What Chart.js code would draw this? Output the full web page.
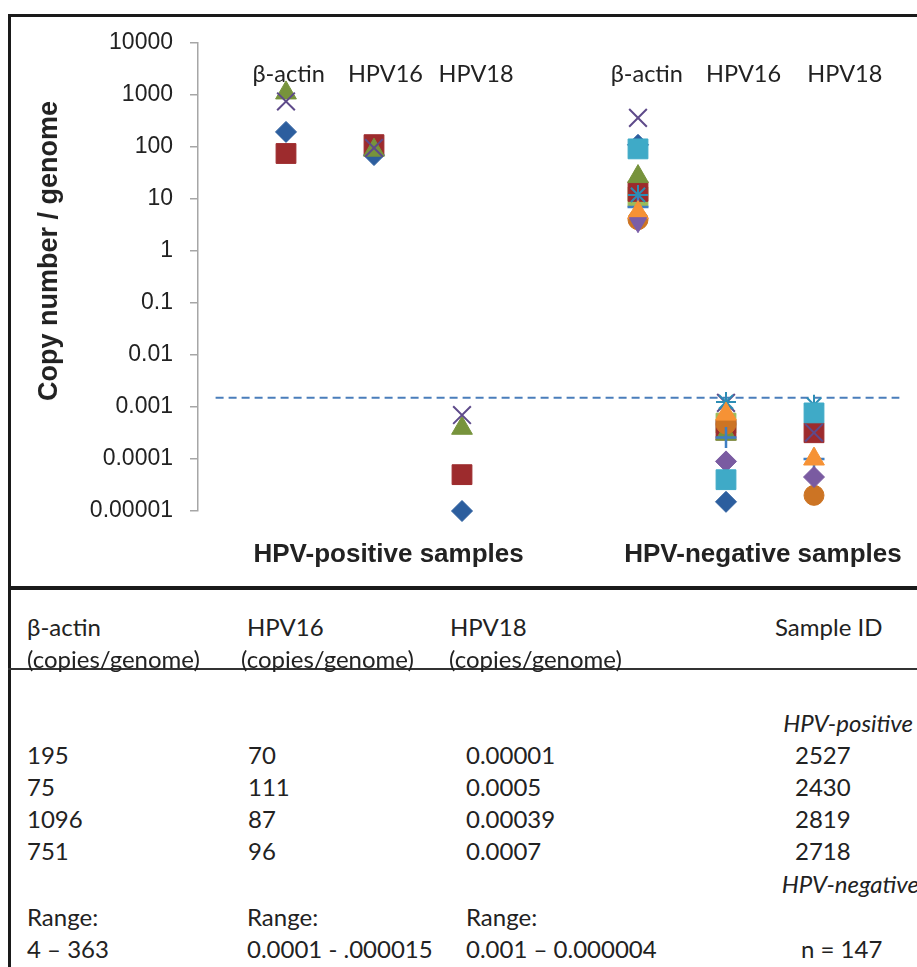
<!DOCTYPE html>
<html>
<head>
<meta charset="utf-8">
<script src="https://cdn.jsdelivr.net/npm/chart.js@4.4.1/dist/chart.umd.min.js"></script>
<style>
  html, body { margin: 0; padding: 0; background: #fff; }
  #page { position: relative; width: 917px; height: 967px; overflow: hidden; background: #fff; }
  #chartCanvas { position: absolute; left: 0; top: 0; }
  .rule { position: absolute; background: #1a1a1a; }
  .lbl { position: absolute; white-space: nowrap; color: #222; }
  .cat { font-family: Lato, "Noto Sans", sans-serif; font-size: 23.5px; line-height: 30px; transform: translate(-50%, -50%); }
  .grp { font-family: "Liberation Sans", Arial, sans-serif; font-weight: bold; font-size: 26px; line-height: 30px; transform: translate(-50%, -50%); }
  .ytitle { font-family: "Liberation Sans", Arial, sans-serif; font-weight: bold; font-size: 27px; line-height: 30px; transform: translate(-50%, -50%) rotate(-90deg); }
  .t { font-family: Lato, "Noto Sans", sans-serif; font-size: 24px; line-height: 30px; }
  .ti { font-style: italic; }
</style>
</head>
<body>
<div id="page">
  <canvas id="chartCanvas" width="917" height="588"></canvas>
  <div class="rule" style="left:8px;top:14px;width:909px;height:3px;"></div>
  <div class="rule" style="left:8px;top:14px;width:3px;height:953px;"></div>
  <div class="rule" style="left:8px;top:586px;width:909px;height:4px;"></div>
  <div class="rule" style="left:8px;top:668px;width:909px;height:2px;background:#333;"></div>
  <div id="labels"></div>
  <div id="table"></div>
</div>
<script>
// ---------------- data ----------------
const groupNames = ['HPV-positive samples', 'HPV-negative samples'];
const targetNames = ['β-actin', 'HPV16', 'HPV18', 'β-actin', 'HPV16', 'HPV18'];
// category position of each column on the 0..8 axis
const columnX = [1, 2, 3, 5, 6, 7];
const yTicks = [10000, 1000, 100, 10, 1, 0.1, 0.01, 0.001, 0.0001, 0.00001];
const yTickLabels = ['10000', '1000', '100', '10', '1', '0.1', '0.01', '0.001', '0.0001', '0.00001'];
const detectionLimit = 0.0015;
const limitSpan = [0.2, 7.97];

// plotted values per column: [pos β-actin, pos HPV16, pos HPV18, neg β-actin, neg HPV16, neg HPV18]
const sample2527 = [195, 70, 0.00001, 110, 0.000015, null];
const sample2430 = [75, 111, 0.00005, 14, 0.00036, 0.00032];
const sample2819 = [1096, 87, 0.00039, 27, 0.0003, null];
const sample2718 = [751, 96, 0.0007, 363, 0.0012, 0.00032];
const negA = [null, null, null, 11, 0.00049, null];        // light green square
const negB = [null, null, null, 12, 0.00125, 0.0011];      // asterisk
const negC = [null, null, null, 4, 0.00047, 0.00002];      // circle
const negD = [null, null, null, 7, 0.00026, 0.0001];       // plus
const negE = [null, null, null, null, 0.00009, 0.000045];  // purple diamond
const negF = [null, null, null, 92, 0.00004, 0.00077];     // cyan square
const negG = [null, null, null, 5.5, 0.00073, 0.0001];     // orange triangle
const negH = [null, null, null, 3.5, null, null];          // down triangle

// table (as printed)
const sampleIds = ['2527', '2430', '2819', '2718'];
const tableBetaActin = ['195', '75', '1096', '751'];
const tableHPV16 = ['70', '111', '87', '96'];
const tableHPV18 = ['0.00001', '0.0005', '0.00039', '0.0007'];
const rangeTexts = ['4 – 363', '0.0001 - .000015', '0.001 – 0.000004'];
const negativeCount = 'n = 147';

// ---------------- styles ----------------
const seriesList = [
  { v: sample2527, s: { pointStyle: 'rectRot', pointRadius: 10.5, color: '#2C5E9E', bw: 1 } },
  { v: negA,       s: { pointStyle: 'rect', pointRadius: 14, color: '#9BBB59', bw: 1 } },
  { v: sample2430, s: { pointStyle: 'rect', pointRadius: 14, color: '#9D2B2D', bw: 1 } },
  { v: sample2819, s: { pointStyle: 'triangle', pointRadius: 12, color: '#77933C', bw: 1 } },
  { v: sample2718, s: { pointStyle: 'crossRot', pointRadius: 12.5, color: '#5E4A8A', bw: 2 } },
  { v: negB,       s: { pointStyle: 'star', pointRadius: 10, color: '#2D8DB5', bw: 2 } },
  { v: negC,       s: { pointStyle: 'circle', pointRadius: 10, color: '#CC7424', bw: 1 } },
  { v: negD,       s: { pointStyle: 'cross', pointRadius: 10.5, color: '#3F7EC2', bw: 2.5 } },
  { v: negE,       s: { pointStyle: 'rectRot', pointRadius: 10.5, color: '#7A5BA1', bw: 1 } },
  { v: negF,       s: { pointStyle: 'rect', pointRadius: 14, color: '#3FAAC7', bw: 1 } },
  { v: negG,       s: { pointStyle: 'triangle', pointRadius: 12, color: '#F69235', bw: 1 } },
  { v: negH,       s: { pointStyle: 'triangle', pointRadius: 10, color: '#7B5EA7', bw: 1, rot: 180 } }
];

const datasets = [];
datasets.push({
  data: limitSpan.map(x => ({ x: x, y: detectionLimit })),
  showLine: true, borderColor: '#4A7EBB', borderWidth: 2, borderDash: [8, 5],
  pointRadius: 0, clip: false, order: 100
});
seriesList.forEach((item, i) => {
  const pts = [];
  item.v.forEach((val, c) => { if (val !== null) pts.push({ x: columnX[c], y: val }); });
  datasets.push({
    data: pts, showLine: false, clip: false,
    pointStyle: item.s.pointStyle, pointRadius: item.s.pointRadius,
    pointBackgroundColor: item.s.color, pointBorderColor: item.s.color,
    pointBorderWidth: item.s.bw, pointRotation: item.s.rot || 0,
    pointHoverRadius: item.s.pointRadius,
    order: 50 - i
  });
});

// ---------------- chart ----------------
const catLabelX = [1.03, 2.13, 3.16, 5.10, 6.20, 7.35];
const grpLabelX = [2.166, 6.42];

const labelPlugin = {
  id: 'htmlLabels',
  afterDraw(chart) {
    const xs = chart.scales.x;
    const box = document.getElementById('labels');
    if (box.childElementCount) return;
    let html = '';
    targetNames.forEach((t, i) => {
      html += '<div class="lbl cat" style="left:' + xs.getPixelForValue(catLabelX[i]) + 'px;top:73px;">' + t + '</div>';
    });
    groupNames.forEach((g, i) => {
      html += '<div class="lbl grp" style="left:' + xs.getPixelForValue(grpLabelX[i]) + 'px;top:553px;">' + g + '</div>';
    });
    html += '<div class="lbl ytitle" style="left:48px;top:251px;">Copy number / genome</div>';
    box.innerHTML = html;
  }
};

new Chart(document.getElementById('chartCanvas'), {
  type: 'scatter',
  data: { datasets: datasets },
  plugins: [labelPlugin],
  options: {
    responsive: false,
    animation: false,
    events: [],
    layout: { padding: { left: 20, right: 12, top: 43, bottom: 77 } },
    plugins: { legend: { display: false }, tooltip: { enabled: false } },
    scales: {
      x: { type: 'linear', min: 0, max: 8, display: false },
      y: {
        type: 'logarithmic', min: 0.00001, max: 10000,
        afterBuildTicks: s => { s.ticks = yTicks.map(v => ({ value: v })); },
        afterFit: s => { s.width = 178; },
        ticks: {
          autoSkip: false,
          padding: 17,
          color: '#222',
          font: { family: '"Liberation Sans", Arial, sans-serif', size: 23 },
          callback: v => { const k = yTicks.indexOf(v); return k >= 0 ? yTickLabels[k] : ''; }
        },
        grid: { drawOnChartArea: false, drawTicks: true, tickLength: 8, color: '#a6a6a6', lineWidth: 1.5 },
        border: { display: true, color: '#a6a6a6', width: 1.5 }
      }
    }
  }
});

// ---------------- table ----------------
(function buildTable() {
  const colX = [27, 248, 466, 795];
  const rowY = [755, 787, 819, 851];
  let h = '';
  const put = (txt, x, y, cls) => { h += '<div class="lbl t ' + (cls || '') + '" style="left:' + x + 'px;top:' + (y - 15) + 'px;">' + txt + '</div>'; };
  const putR = (txt, right, y, cls) => { h += '<div class="lbl t ' + (cls || '') + '" style="right:' + (917 - right) + 'px;top:' + (y - 15) + 'px;">' + txt + '</div>'; };
  put('β-actin', 27, 627); put('HPV16', 247, 627); put('HPV18', 450, 627); put('Sample ID', 775, 627);
  put('(copies/genome)', 27, 659); put('(copies/genome)', 241, 659); put('(copies/genome)', 449, 659);
  putR('HPV-positive', 913, 723, 'ti');
  for (let r = 0; r < sampleIds.length; r++) {
    put(tableBetaActin[r], colX[0], rowY[r]);
    put(tableHPV16[r], colX[1], rowY[r]);
    put(tableHPV18[r], colX[2], rowY[r]);
    put(sampleIds[r], colX[3], rowY[r]);
  }
  putR('HPV-negative', 919, 884, 'ti');
  put('Range:', 27, 917); put('Range:', 247, 917); put('Range:', 466, 917);
  put(rangeTexts[0], 27, 949); put(rangeTexts[1], 247, 949); put(rangeTexts[2], 466, 949);
  put(negativeCount, 801, 949);
  document.getElementById('table').innerHTML = h;
})();
</script>
</body>
</html>
